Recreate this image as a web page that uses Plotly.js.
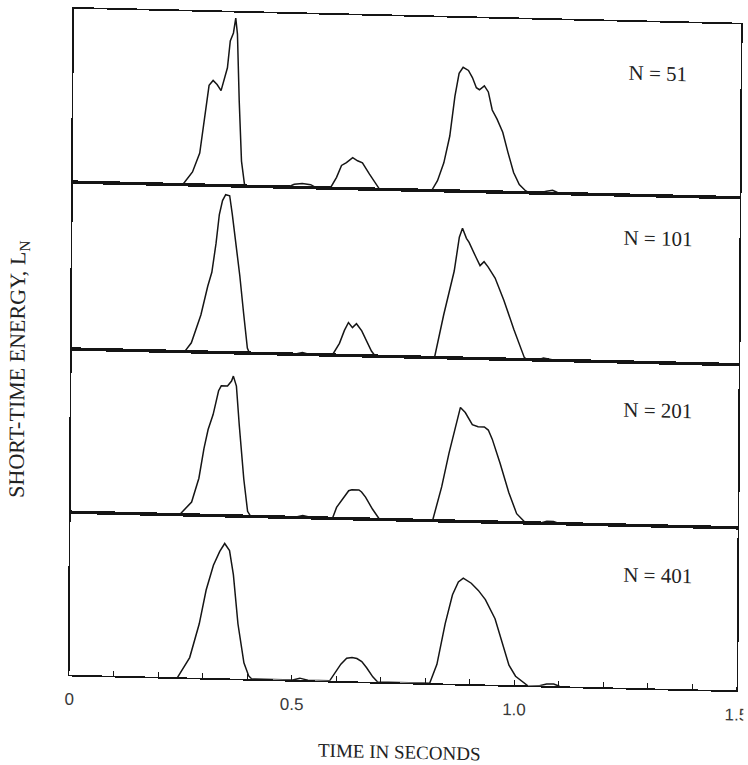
<!DOCTYPE html>
<html>
<head>
<meta charset="utf-8">
<script src="https://cdn.plot.ly/plotly-3.0.1.min.js"></script>
<style>
  html, body { margin: 0; padding: 0; background: #ffffff; overflow: hidden; }
  #chart { width: 748px; height: 765px; transform-origin: 0 0;
           transform: matrix(1, 0.0235, -0.0067, 1, 0, 0); }
</style>
</head>
<body>
<div id="chart"></div>
<script>
// ---- data (time in seconds, short-time energy in relative units) ----
const panelLabels = ["N = 51", "N = 101", "N = 201", "N = 401"];

const t51 = [0.247,0.269,0.285,0.292,0.301,0.305,0.314,0.323,0.332,0.337,0.346,0.352,0.359,0.364,0.368,0.373,0.379,0.386,0.393,
             0.483,0.498,0.516,0.535,0.548,
             0.579,0.593,0.604,0.615,0.629,0.640,0.651,0.667,0.690,
             0.807,0.820,0.834,0.847,0.858,0.867,0.876,0.888,0.897,0.906,0.913,0.924,0.933,0.942,0.953,0.966,0.978,0.991,1.004,1.018,1.027,
             1.049,1.065,1.079,1.090,1.099];
const e51 = [0,13,32,55,82,100,105,101,95,103,118,145,153,168,152,85,25,2,0,
             0,3,4,3,0,
             0,11,23,26,31,28,26,15,0,
             0,10,28,55,95,118,124,121,114,104,102,106,100,82,73,60,40,20,8,2,0,
             0,2,3,1,0];

const t101 = [0.254,0.269,0.290,0.305,0.314,0.323,0.330,0.337,0.344,0.353,0.359,0.368,0.377,0.386,0.395,0.400,
              0.501,0.519,0.537,
              0.586,0.602,0.613,0.622,0.631,0.640,0.652,0.663,0.674,0.683,
              0.816,0.836,0.859,0.870,0.877,0.886,0.892,0.908,0.917,0.926,0.935,0.951,0.971,0.994,1.009,1.018,1.025,
              1.048,1.061,1.075,1.086];
const e101 = [0,9,37,66,80,109,138,152,158,157,139,110,77,40,5,0,
              0,2,0,
              0,12,25,33,28,32,25,15,5,0,
              0,43,87,121,130,120,116,101,93,97,92,81,59,30,13,2,0,
              0,2,1,0];

const t201 = [0.245,0.272,0.288,0.299,0.308,0.319,0.331,0.337,0.351,0.360,0.364,0.371,0.378,0.389,0.398,0.405,
              0.502,0.522,0.544,
              0.589,0.598,0.614,0.625,0.632,0.648,0.654,0.663,0.679,0.695,
              0.814,0.834,0.850,0.866,0.875,0.886,0.902,0.915,0.929,0.938,0.947,0.965,0.985,1.003,1.017,1.023,
              1.055,1.071,1.086,1.100];
const e201 = [0,13,37,67,86,101,125,130,130,135,140,130,91,37,5,0,
              0,2,0,
              0,11,21,28,29,29,27,22,10,0,
              0,34,68,97,114,109,97,95,95,92,83,59,30,9,2,0,
              0,2,2,0];

const t401 = [0.243,0.270,0.291,0.306,0.322,0.336,0.347,0.358,0.367,0.378,0.392,0.403,0.410,
              0.502,0.518,0.536,
              0.585,0.599,0.610,0.623,0.635,0.646,0.657,0.668,0.682,0.693,
              0.810,0.826,0.844,0.860,0.873,0.884,0.902,0.918,0.934,0.956,0.972,0.988,1.003,1.019,1.030,
              1.057,1.073,1.089,1.102];
const e401 = [0,20,54,88,113,127,135,128,104,55,16,3,0,
              0,2,0,
              0,9,17,23,24,23,20,14,5,0,
              0,19,60,89,102,106,101,94,85,66,42,20,9,4,0,
              0,2,2,0];

const xTickVals = [0, 0.5, 1.0, 1.5];
const xTickText = ["0", "0.5", "1.0", "1.5"];
const xMinorTickVals = [0.1,0.2,0.3,0.4,0.6,0.7,0.8,0.9,1.1,1.2,1.3,1.4];

// ---- styling ----
const ink = "#151515";
const lineStyle = {color: ink, width: 1.5};
const serif = "Liberation Serif, Times New Roman, serif";

const series = [[t51,e51],[t101,e101],[t201,e201],[t401,e401]];
const axisIds = ["4","3","2",""];   // top panel first
const domains = [[0.7397,1],[0.4891,0.7397],[0.2441,0.4891],[0,0.2441]];
const yTops = [173.5,167,163.3,162.7];

const traces = series.map((s,i) => ({
  x: s[0], y: s[1], type: "scatter", mode: "lines",
  line: lineStyle, hoverinfo: "skip",
  xaxis: "x" + axisIds[i], yaxis: "y" + axisIds[i], showlegend: false
}));

const layout = {
  width: 748, height: 765,
  margin: {l: 74, r: 7, t: 7, b: 92},
  paper_bgcolor: "#ffffff", plot_bgcolor: "#ffffff",
  showlegend: false,
  annotations: []
};

axisIds.forEach((id,i) => {
  const isBottom = (id === "");
  const ax = {
    range: [0,1.5], anchor: "y" + id,
    showline: true, mirror: true, linecolor: ink, linewidth: 1.7,
    showgrid: false, zeroline: false,
    showticklabels: false, ticks: ""
  };
  if (isBottom) {
    Object.assign(ax, {
      tickmode: "array", tickvals: xTickVals, ticktext: xTickText,
      ticks: "inside", ticklen: 5, tickwidth: 1, tickcolor: ink,
      showticklabels: true, ticklabelstandoff: 8, ticklabeloverflow: "allow",
      tickfont: {family: "Liberation Sans, Arial, sans-serif", size: 17, color: "#3a3a3a"},
      minor: {tickmode: "array", tickvals: xMinorTickVals, ticks: "inside",
              ticklen: 5, tickwidth: 1, tickcolor: ink, showgrid: false}
    });
  } else {
    ax.matches = "x";
  }
  layout["xaxis" + id] = ax;
  layout["yaxis" + id] = {
    domain: domains[i], range: [0, yTops[i]], anchor: "x" + id,
    showline: true, mirror: true, linecolor: ink, linewidth: 1.7,
    showgrid: false, zeroline: false, showticklabels: false, ticks: ""
  };
});

const labelPos = [[0.876,0.924],[0.878,0.676],[0.880,0.417],[0.881,0.169]];
panelLabels.forEach((txt,i) => {
  layout.annotations.push({
    text: txt, xref: "paper", yref: "paper",
    x: labelPos[i][0], y: labelPos[i][1], xanchor: "center", yanchor: "middle",
    showarrow: false, font: {family: serif, size: 21, color: "#222"}
  });
});

layout.annotations.push({
  text: "TIME IN SECONDS", xref: "paper", yref: "paper",
  x: 0.495, y: -0.104, xanchor: "center", yanchor: "middle",
  showarrow: false, font: {family: serif, size: 19, color: "#222"}
});
layout.annotations.push({
  text: "SHORT-TIME ENERGY, L<sub>N</sub>", xref: "paper", yref: "paper",
  x: -0.080, y: 0.457, xanchor: "center", yanchor: "middle", textangle: -90,
  showarrow: false, font: {family: serif, size: 22, color: "#222"}
});

Plotly.newPlot("chart", traces, layout, {staticPlot: true, displayModeBar: false});
</script>
</body>
</html>
